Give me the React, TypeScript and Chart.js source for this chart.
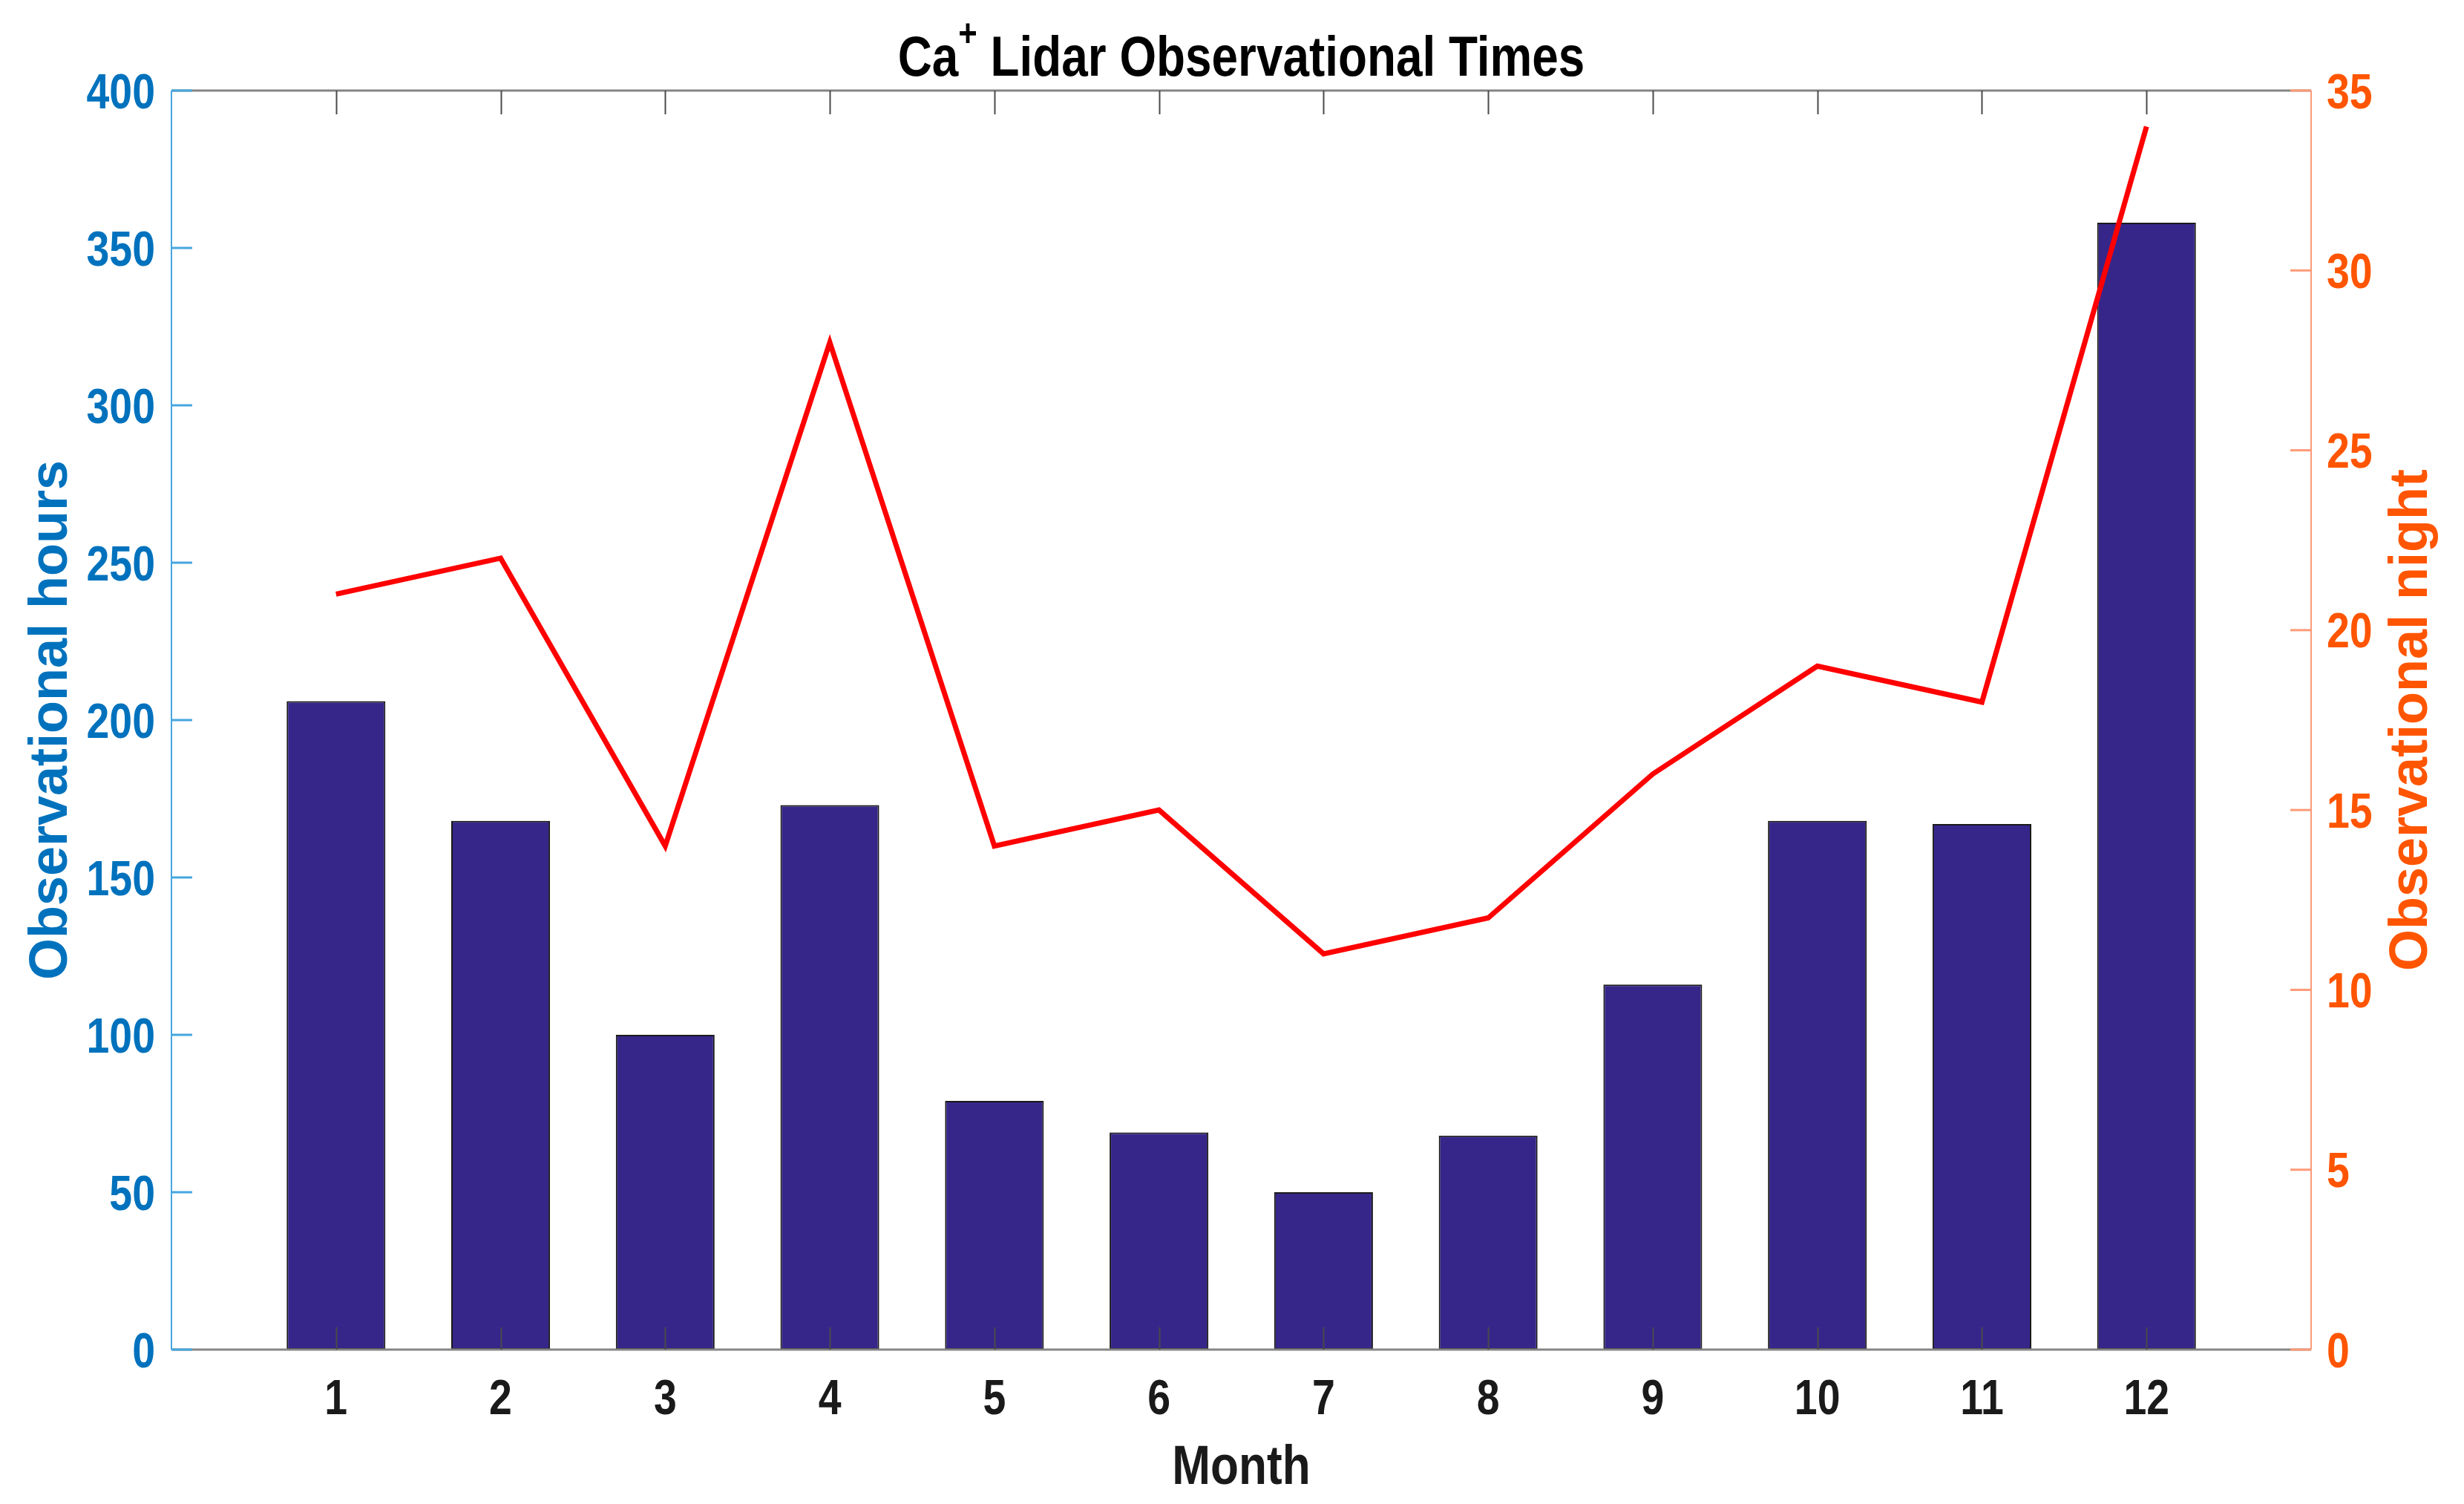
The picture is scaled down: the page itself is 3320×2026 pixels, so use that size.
import React, { useEffect, useRef } from 'react';
import { Chart, registerables } from 'chart.js';

Chart.register(...registerables);

// ---- data ----
const months = [1, 2, 3, 4, 5, 6, 7, 8, 9, 10, 11, 12];
const observationalHours = [206, 168, 100, 173, 79, 69, 50, 68, 116, 168, 167, 358];
const observationalNights = [21, 22, 14, 28, 14, 15, 11, 12, 16, 19, 18, 34];
const hoursAxis = { min: 0, max: 400, step: 50 };
const nightsAxis = { min: 0, max: 35, step: 5 };
const monthAxis = { min: 0, max: 13, step: 1 };

const titleBase = 'Ca';
const titleSup = '+';
const titleRest = ' Lidar Observational Times';
const xTitle = 'Month';
const yLeftTitle = 'Observational hours';
const yRightTitle = 'Observational night';

// ---- styles ----
const W = 3320;
const H = 2026;
const FONT = '"Liberation Sans", Arial, sans-serif';
const SQUEEZE = 0.84; // horizontal compression of the upright text
const BLUE = '#0072BD';
const BLUE_LINE = '#45A6DE';
const ORANGE = '#FF5500';
const ORANGE_LINE = '#FF9A78';
const BAR_FILL = '#36268A';
const GRAY = '#858585';
const TICK_PX = 66;

function squeezedText(ctx: any, text: string, x: number, y: number, align: string) {
  ctx.save();
  ctx.translate(x, y);
  ctx.scale(SQUEEZE, 1);
  ctx.textAlign = align;
  ctx.fillText(text, 0, 0);
  ctx.restore();
}

const decorPlugin = {
  id: 'decor',
  afterDatasetsDraw(chart: any) {
    const { ctx, chartArea: a, scales } = chart;
    const x = scales.x;
    const y = scales.y;
    const y1 = scales.y1;
    ctx.save();
    const seg = (x0: number, y0: number, x1: number, y1p: number) => {
      ctx.beginPath();
      ctx.moveTo(x0, y0);
      ctx.lineTo(x1, y1p);
      ctx.stroke();
    };
    // box lines
    ctx.lineWidth = 3;
    ctx.strokeStyle = GRAY;
    seg(a.left, a.top, a.right, a.top);
    seg(a.left, a.bottom, a.right, a.bottom);
    // x ticks (inward, top and bottom)
    ctx.lineWidth = 2;
    ctx.strokeStyle = '#4a4a4a';
    months.forEach((m) => {
      const px = Math.round(x.getPixelForValue(m)) + 0.5;
      seg(px, a.bottom, px, a.bottom - 30);
      seg(px, a.top, px, a.top + 32);
    });
    // left axis
    ctx.lineWidth = 2;
    ctx.strokeStyle = BLUE_LINE;
    seg(a.left, a.top, a.left, a.bottom);
    ctx.lineWidth = 3;
    y.ticks.forEach((t: any) => {
      const py = y.getPixelForValue(t.value);
      seg(a.left, py, a.left + 28, py);
    });
    // right axis
    ctx.lineWidth = 2;
    ctx.strokeStyle = ORANGE_LINE;
    seg(a.right, a.top, a.right, a.bottom);
    ctx.lineWidth = 3;
    y1.ticks.forEach((t: any) => {
      const py = y1.getPixelForValue(t.value);
      seg(a.right, py, a.right - 28, py);
    });
    ctx.restore();
  },
  afterDraw(chart: any) {
    const { ctx, chartArea: a, scales } = chart;
    const cx = (a.left + a.right) / 2;
    const cy = (a.top + a.bottom) / 2;
    ctx.save();
    ctx.textBaseline = 'alphabetic';

    // tick labels (from the scales' own ticks)
    const capHalf = (0.716 * TICK_PX) / 2;
    ctx.font = `bold ${TICK_PX}px ${FONT}`;
    ctx.fillStyle = '#1a1a1a';
    scales.x.ticks.forEach((t: any) => {
      if (!t.label) return;
      squeezedText(ctx, String(t.label), scales.x.getPixelForValue(t.value), 1905, 'center');
    });
    ctx.fillStyle = BLUE;
    scales.y.ticks.forEach((t: any) => {
      squeezedText(ctx, String(t.label), a.left - 22, scales.y.getPixelForValue(t.value) + capHalf, 'right');
    });
    ctx.fillStyle = ORANGE;
    scales.y1.ticks.forEach((t: any) => {
      squeezedText(ctx, String(t.label), a.right + 21, scales.y1.getPixelForValue(t.value) + capHalf, 'left');
    });

    // title with superscript
    ctx.fillStyle = '#000';
    const mainFont = `bold 76px ${FONT}`;
    const supFont = `bold 52px ${FONT}`;
    ctx.font = mainFont;
    const w1 = ctx.measureText(titleBase).width * SQUEEZE;
    const w3 = ctx.measureText(titleRest).width * SQUEEZE;
    ctx.font = supFont;
    const w2 = ctx.measureText(titleSup).width * SQUEEZE;
    let tx = cx - (w1 + w2 + w3) / 2;
    const ty = 102;
    ctx.font = mainFont;
    squeezedText(ctx, titleBase, tx, ty, 'left');
    tx += w1;
    ctx.font = supFont;
    squeezedText(ctx, titleSup, tx, ty - 40, 'left');
    tx += w2;
    ctx.font = mainFont;
    squeezedText(ctx, titleRest, tx, ty, 'left');

    // x axis title
    ctx.font = `bold 74px ${FONT}`;
    ctx.fillStyle = '#1a1a1a';
    squeezedText(ctx, xTitle, cx, 1999, 'center');

    // left axis title (reads bottom to top)
    ctx.textAlign = 'center';
    ctx.font = `bold 72px ${FONT}`;
    ctx.fillStyle = BLUE;
    ctx.save();
    ctx.translate(90, cy);
    ctx.rotate(-Math.PI / 2);
    ctx.fillText(yLeftTitle, 0, 0);
    ctx.restore();

    // right axis title (also reads bottom to top)
    ctx.fillStyle = ORANGE;
    ctx.save();
    ctx.translate(3270, cy);
    ctx.rotate(-Math.PI / 2);
    ctx.fillText(yRightTitle, 0, 0);
    ctx.restore();
    ctx.restore();
  },
};

export default function App() {
  const canvasRef = useRef<HTMLCanvasElement | null>(null);

  useEffect(() => {
    const canvas = canvasRef.current;
    if (!canvas) return;
    const barData = months.map((m, i) => ({ x: m, y: observationalHours[i] }));
    const lineData = months.map((m, i) => ({ x: m, y: observationalNights[i] }));

    const chart = new Chart(canvas, {
      type: 'bar',
      data: {
        datasets: [
          {
            type: 'line',
            label: 'Observational night',
            data: lineData,
            yAxisID: 'y1',
            borderColor: '#FF0000',
            borderWidth: 7,
            pointRadius: 0,
            tension: 0,
            fill: false,
            order: 0,
          } as any,
          {
            type: 'bar',
            label: 'Observational hours',
            data: barData,
            yAxisID: 'y',
            backgroundColor: BAR_FILL,
            borderColor: '#1a1a1a',
            borderWidth: 2,
            borderSkipped: false,
            barPercentage: 0.6,
            categoryPercentage: 1,
            order: 1,
          } as any,
        ],
      },
      options: {
        responsive: false,
        animation: false,
        devicePixelRatio: 1,
        layout: { padding: { top: 122, left: 0, right: 0, bottom: 0 } },
        plugins: {
          legend: { display: false },
          tooltip: { enabled: false },
          title: { display: false },
        },
        scales: {
          x: {
            type: 'linear',
            position: 'bottom',
            min: monthAxis.min,
            max: monthAxis.max,
            offset: false,
            grid: { display: false, drawTicks: false },
            border: { display: false },
            ticks: {
              display: false,
              stepSize: monthAxis.step,
              autoSkip: false,
              maxRotation: 0,
              callback: (v: any) => (v >= 1 && v <= 12 ? String(v) : ''),
            },
            afterFit: (s: any) => {
              s.height = H - 1818;
            },
          },
          y: {
            type: 'linear',
            position: 'left',
            min: hoursAxis.min,
            max: hoursAxis.max,
            grid: { display: false, drawTicks: false },
            border: { display: false },
            ticks: { display: false, stepSize: hoursAxis.step },
            afterFit: (s: any) => {
              s.width = 231;
            },
          },
          y1: {
            type: 'linear',
            position: 'right',
            min: nightsAxis.min,
            max: nightsAxis.max,
            grid: { display: false, drawTicks: false },
            border: { display: false },
            ticks: { display: false, stepSize: nightsAxis.step },
            afterFit: (s: any) => {
              s.width = W - 3114;
            },
          },
        },
      },
      plugins: [decorPlugin],
    });
    return () => chart.destroy();
  }, []);

  return (
    <div style={{ position: 'absolute', left: 0, top: 0, width: W, height: H, background: '#fff' }}>
      <canvas ref={canvasRef} width={W} height={H} style={{ display: 'block', width: W, height: H }} />
    </div>
  );
}
